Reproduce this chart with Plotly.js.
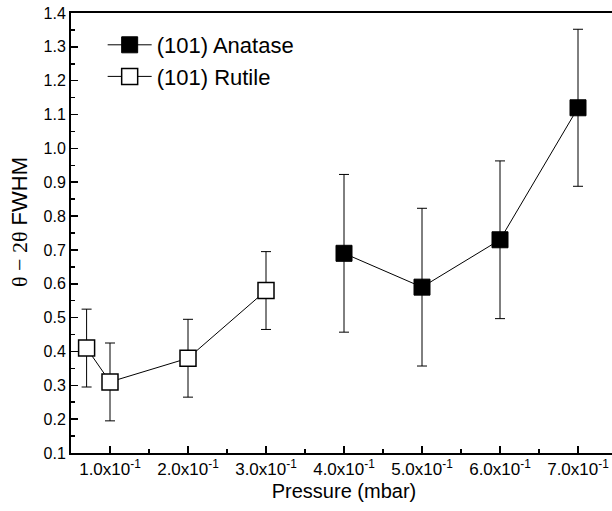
<!DOCTYPE html>
<html>
<head>
<meta charset="utf-8">
<script src="https://cdn.plot.ly/plotly-3.0.1.min.js"></script>
<style>html,body{margin:0;padding:0;overflow:hidden;background:#fff;}</style>
</head>
<body>
<div id="chart"></div>
<script>
// Data
const anataseX = [0.4, 0.5, 0.6, 0.7];
const anataseY = [0.69, 0.59, 0.73, 1.12];
const anataseErr = [0.233, 0.233, 0.233, 0.232];

const rutileX = [0.07, 0.1, 0.2, 0.3];
const rutileY = [0.41, 0.31, 0.38, 0.58];
const rutileErr = [0.115, 0.115, 0.115, 0.115];

const xTickVals = [0.1, 0.2, 0.3, 0.4, 0.5, 0.6, 0.7];
const xTickText = ["1.0x10<sup>-1</sup>", "2.0x10<sup>-1</sup>", "3.0x10<sup>-1</sup>", "4.0x10<sup>-1</sup>",
                   "5.0x10<sup>-1</sup>", "6.0x10<sup>-1</sup>", "7.0x10<sup>-1</sup>"];

const yTitle = "<span style='font-family:Liberation Serif'>θ − 2θ</span> FWHM";
const xTitle = "Pressure (mbar)";

const font = "Liberation Sans, Arial, sans-serif";

const traces = [
  {
    x: anataseX, y: anataseY, name: "(101) Anatase",
    type: "scatter", mode: "lines+markers",
    line: {color: "#000", width: 1},
    marker: {symbol: "square", size: 16, color: "#000", line: {color: "#000", width: 1}},
    error_y: {type: "data", array: anataseErr, visible: true, color: "#000", thickness: 1, width: 5}
  },
  {
    x: rutileX, y: rutileY, name: "(101) Rutile",
    type: "scatter", mode: "lines+markers",
    line: {color: "#000", width: 1},
    marker: {symbol: "square", size: 16, color: "#fff", line: {color: "#000", width: 1.5}},
    error_y: {type: "data", array: rutileErr, visible: true, color: "#000", thickness: 1, width: 5}
  }
];

const layout = {
  width: 630, height: 511,
  margin: {l: 71, r: 13, t: 13, b: 58},
  paper_bgcolor: "#fff", plot_bgcolor: "#fff",
  font: {family: font, color: "#000", size: 14},
  showlegend: true,
  legend: {
    x: 0.058, y: 0.975, xanchor: "left", yanchor: "top",
    font: {family: font, size: 22, color: "#000"},
    bgcolor: "rgba(0,0,0,0)", itemwidth: 44, tracegroupgap: 0
  },
  annotations: [{
    text: yTitle, textangle: -90, showarrow: false,
    xref: "paper", yref: "paper",
    x: (19 - 71) / 546, y: (453 - 222) / 440,
    xanchor: "center", yanchor: "middle",
    font: {family: font, size: 22, color: "#000"}
  }],
  xaxis: {
    range: [0.05, 0.75],
    tickmode: "array", tickvals: xTickVals, ticktext: xTickText,
    ticks: "inside", ticklen: 7, tickwidth: 1.5, tickcolor: "#000",
    minor: {tickmode: "linear", tick0: 0.05, dtick: 0.1, ticks: "inside", ticklen: 4, tickwidth: 1.5, tickcolor: "#000"},
    showline: true, linecolor: "#000", linewidth: 2, mirror: true,
    showgrid: false, zeroline: false,
    tickfont: {family: font, size: 17, color: "#000"},
    title: {text: xTitle, font: {family: font, size: 20, color: "#000"}, standoff: 6}
  },
  yaxis: {
    range: [0.1, 1.4],
    tickmode: "linear", tick0: 0.1, dtick: 0.1, tickformat: ".1f",
    ticks: "inside", ticklen: 7, tickwidth: 1.5, tickcolor: "#000",
    minor: {tickmode: "linear", tick0: 0.15, dtick: 0.1, ticks: "inside", ticklen: 4, tickwidth: 1.5, tickcolor: "#000"},
    showline: true, linecolor: "#000", linewidth: 2, mirror: true,
    showgrid: false, zeroline: false,
    tickfont: {family: font, size: 16, color: "#000"}
  }
};

Plotly.newPlot("chart", traces, layout, {displayModeBar: false, staticPlot: true});
</script>
</body>
</html>
